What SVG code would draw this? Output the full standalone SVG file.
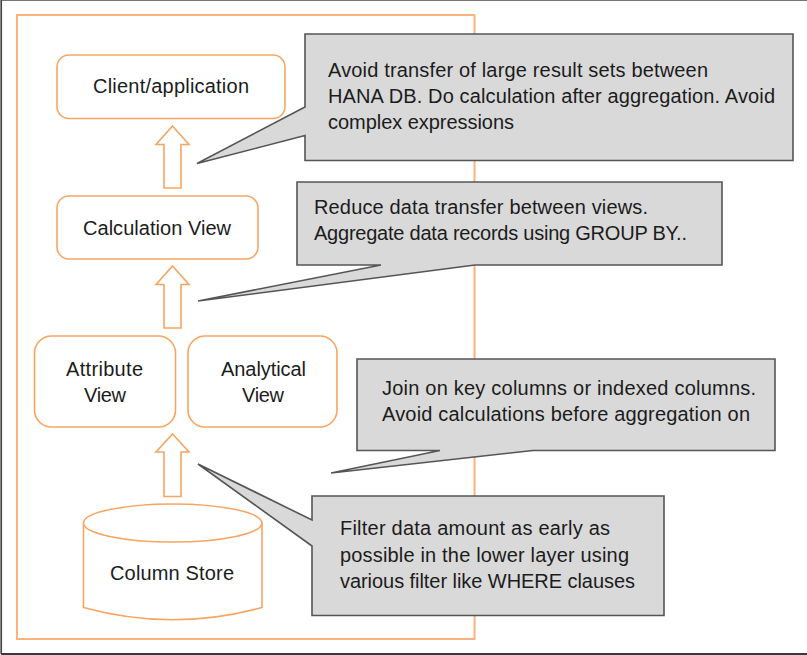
<svg xmlns="http://www.w3.org/2000/svg" width="807" height="655" viewBox="0 0 807 655">
<style>
.n{fill:#fff;stroke:#f8a561;stroke-width:1.6}
.f{fill:none;stroke:#fbb27c;stroke-width:2}
.a{fill:#fff;stroke:#f8a561;stroke-width:1.6;stroke-linejoin:miter}
.c{fill:#d9d9d9;stroke:#555;stroke-width:1.6;stroke-linejoin:miter}
text{font-family:"Liberation Sans",Arial,sans-serif;font-size:20px;fill:#1c1c1c}
</style>
<rect width="807" height="655" fill="#fff"/>
<g id="outer-frame"><path d="M1.500 654V.5H807" fill="none" stroke="#777" stroke-width="1.2"/><path d="M1 654H807" stroke="#3a3a3a" stroke-width="2" fill="none"/><path d="M1.200 0V654" stroke="#444" stroke-width="1.6" fill="none"/></g>
<g id="boundary"><rect class="f" x="17" y="15" width="457.500" height="624"/></g>
<g id="connectors">
<path class="a" d="M172.500 126L189 144.500H181V188H164V144.500H156Z"/>
<path class="a" d="M172.500 266L189 284.500H181V328H164V284.500H156Z"/>
<path class="a" d="M172.500 434L189 452H181V496.500H164V452H156Z"/>
</g>
<g id="client"><rect class="n" x="57" y="55" width="228" height="63.500" rx="12"/><text x="93" y="92.500" textLength="156">Client/application</text></g>
<g id="calculation"><rect class="n" x="57" y="196" width="201" height="63" rx="12"/><text x="83" y="234.500" textLength="148">Calculation View</text></g>
<g id="attribute"><rect class="n" x="34.500" y="336" width="141" height="91" rx="17"/><text x="66" y="375.500" textLength="77">Attribute</text><text x="84" y="401.500" textLength="42">View</text></g>
<g id="analytical"><rect class="n" x="188" y="336" width="149" height="91" rx="17"/><text x="221" y="375.500" textLength="85">Analytical</text><text x="242" y="401.500" textLength="42">View</text></g>
<g id="column-store"><path class="n" d="M83.500 523V607.500Q172.500 632 262 607.500V523"/><ellipse class="n" cx="172.700" cy="523" rx="89.200" ry="19"/><text x="110" y="579.500" textLength="124">Column Store</text></g>
<g id="callout-1"><path class="c" d="M305 34H793V160.500H305V135.500L197 163.500L305 107Z"/><text x="328" y="77" textLength="380">Avoid transfer of large result sets between</text><text x="328" y="103" textLength="447">HANA DB. Do calculation after aggregation. Avoid</text><text x="328" y="129" textLength="186">complex expressions</text></g>
<g id="callout-2"><path class="c" d="M297 182H722V265H475L198 301L381 265H297Z"/><text x="314" y="214" textLength="334">Reduce data transfer between views.</text><text x="314" y="240" textLength="373">Aggregate data records using GROUP BY..</text></g>
<g id="callout-3"><path class="c" d="M357 359H775V450.500H533L331 473L440 450.500H357Z"/><text x="382" y="395" textLength="374">Join on key columns or indexed columns.</text><text x="382" y="421" textLength="368">Avoid calculations before aggregation on</text></g>
<g id="callout-4"><path class="c" d="M312 496H664V615.500H312V546L198 464L312 520Z"/><text x="340" y="535" textLength="270">Filter data amount as early as</text><text x="340" y="561.500" textLength="289">possible in the lower layer using</text><text x="340" y="588" textLength="295">various filter like WHERE clauses</text></g>
</svg>
